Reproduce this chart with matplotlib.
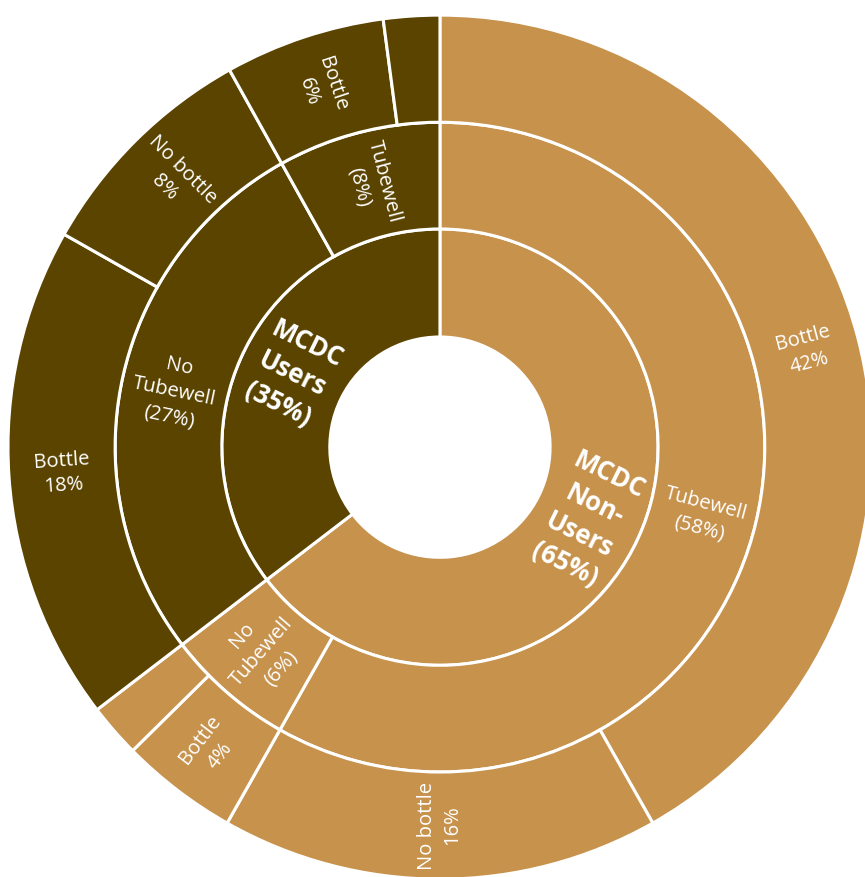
import numpy as np
import matplotlib
matplotlib.use("Agg")
import matplotlib.pyplot as plt

# -----------------------------
# data (percent of all respondents)
# -----------------------------
inner_labels = ["MCDC\nNon-\nUsers\n(65%)", "MCDC\nUsers\n(35%)"]

middle_labels = ["Tubewell\n(58%)", "No\nTubewell\n(6%)",
                 "No\nTubewell\n(27%)", "Tubewell\n(8%)"]
middle_parent = [0, 0, 1, 1]

outer_labels = ["Bottle\n42%", "No bottle\n16%", "Bottle\n4%", "",
                "Bottle\n18%", "No bottle\n8%", "Bottle\n6%", ""]
outer_values = [41.8, 16.4, 4.4, 2.0, 18.6, 8.7, 6.0, 2.1]
outer_parent = [0, 0, 1, 1, 2, 2, 3, 3]

colors = ["#C6924C", "#5B4400"]  # non-users, users

# parent totals from the leaves
middle_values = np.bincount(outer_parent, weights=outer_values)
inner_values = np.bincount(middle_parent, weights=middle_values)

middle_colors = [colors[p] for p in middle_parent]
outer_colors = [middle_colors[p] for p in outer_parent]

plt.rcParams["font.family"] = ["Open Sans", "DejaVu Sans"]

fig = plt.figure(figsize=(8.65, 8.77), dpi=100)
ax = fig.add_axes([0, 0, 1, 1])

# ring edges (outer radius of each ring, hole first)
edges = [0.255, 0.505, 0.752, 1.0]
rings = [
    (inner_values, inner_labels, colors, True),
    (middle_values, middle_labels, middle_colors, False),
    (outer_values, outer_labels, outer_colors, False),
]

for i, (vals, labels, cols, bold) in enumerate(rings):
    r = edges[i + 1]
    w = r - edges[i]
    wedges, _ = ax.pie(vals, radius=r, startangle=90, counterclock=False,
                       colors=cols,
                       wedgeprops=dict(width=w, edgecolor="white", linewidth=2.2))
    rmid = r - w / 2
    for wd, lab in zip(wedges, labels):
        if not lab:
            continue
        a = (wd.theta1 + wd.theta2) / 2
        # text runs along the radius, kept readable
        rot = a % 360
        if rot > 180:
            rot -= 360
        if rot > 90:
            rot -= 180
        elif rot <= -90:
            rot += 180
        x = rmid * np.cos(np.radians(a))
        y = rmid * np.sin(np.radians(a))
        ax.text(x, y, lab, ha="center", va="center", rotation=rot,
                rotation_mode="anchor", color="white",
                fontsize=18.5 if bold else 14.5,
                fontweight="bold" if bold else "normal",
                linespacing=1.3 if bold else 1.35)

ax.set_xlim(-1.0185, 0.984)
ax.set_ylim(-0.995, 1.035)
ax.set_aspect("auto")
ax.axis("off")

fig.savefig("out.png", dpi=100, facecolor="white")
